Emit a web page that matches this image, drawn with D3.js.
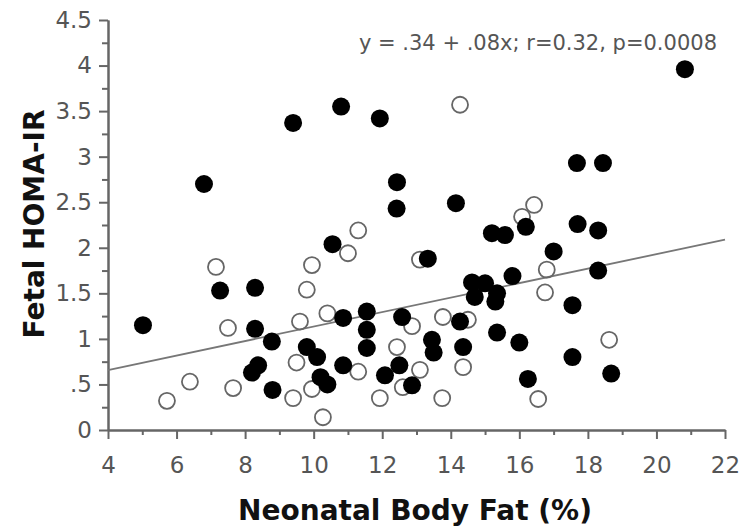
<!DOCTYPE html>
<html>
<head>
<meta charset="utf-8">
<script src="https://cdn.jsdelivr.net/npm/d3@7"></script>
<style>
  body { margin: 0; background: #fff; }
  #chart { width: 755px; height: 529px; }
</style>
</head>
<body>
<div id="chart"></div>
<script>
// filled circles
var filledX = [20.83, 10.8, 11.93, 9.4, 6.8, 17.68, 18.44, 12.43, 12.42, 14.15,
  17.7, 16.19, 18.3, 15.2, 15.58, 10.55, 17.0, 13.33, 18.3, 15.8,
  14.62, 15.0, 8.29, 7.27, 15.35, 14.7, 15.3, 17.55, 11.55, 10.86,
  12.58, 14.27, 5.02, 8.29, 11.55, 15.35, 13.45, 8.78, 16.0, 11.55,
  14.36, 9.8, 13.5, 17.55, 10.1, 10.86, 8.38, 12.5, 18.68, 12.08,
  8.2, 10.2, 16.25, 8.8, 12.87, 10.4];
var filledY = [3.96, 3.55, 3.42, 3.37, 2.70, 2.93, 2.93, 2.72, 2.43, 2.49,
  2.26, 2.23, 2.19, 2.16, 2.14, 2.04, 1.96, 1.88, 1.75, 1.69,
  1.62, 1.61, 1.56, 1.53, 1.50, 1.46, 1.41, 1.37, 1.30, 1.23,
  1.24, 1.19, 1.15, 1.11, 1.10, 1.07, 0.99, 0.97, 0.96, 0.90,
  0.91, 0.91, 0.85, 0.80, 0.80, 0.71, 0.71, 0.71, 0.62, 0.60,
  0.63, 0.58, 0.56, 0.44, 0.49, 0.50];

// open circles
var openX = [14.27, 16.43, 16.08, 11.3, 11.0, 13.1, 9.95, 7.15, 16.8, 9.8,
  16.75, 10.4, 13.77, 14.5, 9.6, 7.5, 12.87, 18.62, 12.43, 14.36,
  9.5, 13.1, 11.3, 6.39, 12.6, 7.65, 9.95, 5.72, 9.4, 11.93,
  13.75, 16.55, 10.27];
var openY = [3.57, 2.47, 2.34, 2.19, 1.94, 1.87, 1.81, 1.79, 1.76, 1.54,
  1.51, 1.28, 1.24, 1.21, 1.19, 1.12, 1.14, 0.99, 0.91, 0.69,
  0.74, 0.66, 0.64, 0.53, 0.47, 0.46, 0.45, 0.32, 0.35, 0.35,
  0.35, 0.34, 0.14];

// regression y = a + b*x
var fitA = 0.34;
var fitB = 0.0795;

var xTicks = [4, 6, 8, 10, 12, 14, 16, 18, 20, 22];
var xMinor = [5, 7, 9, 11, 13, 15, 17, 19, 21];
var yTicks = [0, 0.5, 1, 1.5, 2, 2.5, 3, 3.5, 4, 4.5];
var yTickLabels = ["0", ".5", "1", "1.5", "2", "2.5", "3", "3.5", "4", "4.5"];
var yMinor = [0.25, 0.75, 1.25, 1.75, 2.25, 2.75, 3.25, 3.75, 4.25];

var container = d3.select("#chart");
var width = 755;
var height = 529;

var svg = container.append("svg")
  .attr("width", width)
  .attr("height", height);

var x = d3.scaleLinear().domain([4, 22]).range([108, 725]);
var y = d3.scaleLinear().domain([0, 4.5]).range([430, 20]);

var axisColor = "#666";
var font = "DejaVu Sans, sans-serif";

// minor ticks
var xm = svg.append("g")
  .attr("transform", "translate(0,430)")
  .call(d3.axisBottom(x).tickValues(xMinor).tickSize(5).tickSizeOuter(0).tickFormat(""));
var ym = svg.append("g")
  .attr("transform", "translate(108,0)")
  .call(d3.axisLeft(y).tickValues(yMinor).tickSize(6).tickSizeOuter(0).tickFormat(""));

// major ticks
var xa = svg.append("g")
  .attr("transform", "translate(0,430)")
  .call(d3.axisBottom(x).tickValues(xTicks).tickSize(9).tickSizeOuter(0).tickPadding(18));
var ya = svg.append("g")
  .attr("transform", "translate(108,0)")
  .call(d3.axisLeft(y).tickValues(yTicks).tickSize(9).tickSizeOuter(0).tickPadding(7)
    .tickFormat((d, i) => yTickLabels[i]));

[xm, ym, xa, ya].forEach(function (g) {
  g.selectAll("path, line")
    .attr("stroke", axisColor)
    .attr("stroke-width", 2);
  g.selectAll("text")
    .attr("fill", "#555")
    .style("font-family", font)
    .style("font-size", "23px");
});

// regression line
svg.append("line")
  .attr("x1", x(4))
  .attr("y1", y(fitA + fitB * 4))
  .attr("x2", x(22))
  .attr("y2", y(fitA + fitB * 22))
  .attr("stroke", "#777")
  .attr("stroke-width", 1.8);

var open = openX.map((d, i) => ({ x: d, y: openY[i] }));
var filled = filledX.map((d, i) => ({ x: d, y: filledY[i] }));

svg.append("g").selectAll("circle")
  .data(open)
  .enter()
  .append("circle")
  .attr("cx", d => x(d.x))
  .attr("cy", d => y(d.y))
  .attr("r", 8)
  .attr("fill", "none")
  .attr("stroke", "#666")
  .attr("stroke-width", 1.8);

svg.append("g").selectAll("circle")
  .data(filled)
  .enter()
  .append("circle")
  .attr("cx", d => x(d.x))
  .attr("cy", d => y(d.y))
  .attr("r", 9)
  .attr("fill", "#000");

// equation
svg.append("text")
  .attr("x", 717)
  .attr("y", 50)
  .attr("text-anchor", "end")
  .attr("fill", "#555")
  .style("font-family", font)
  .style("font-size", "21px")
  .text("y = .34 + .08x; r=0.32, p=0.0008");

// axis titles
svg.append("text")
  .attr("x", 415)
  .attr("y", 520)
  .attr("text-anchor", "middle")
  .attr("fill", "#111")
  .style("font-family", font)
  .style("font-weight", "bold")
  .style("font-size", "28px")
  .text("Neonatal Body Fat (%)");

svg.append("text")
  .attr("transform", "translate(44,224) rotate(-90)")
  .attr("text-anchor", "middle")
  .attr("fill", "#111")
  .style("font-family", font)
  .style("font-weight", "bold")
  .style("font-size", "28px")
  .text("Fetal HOMA-IR");
</script>
</body>
</html>
